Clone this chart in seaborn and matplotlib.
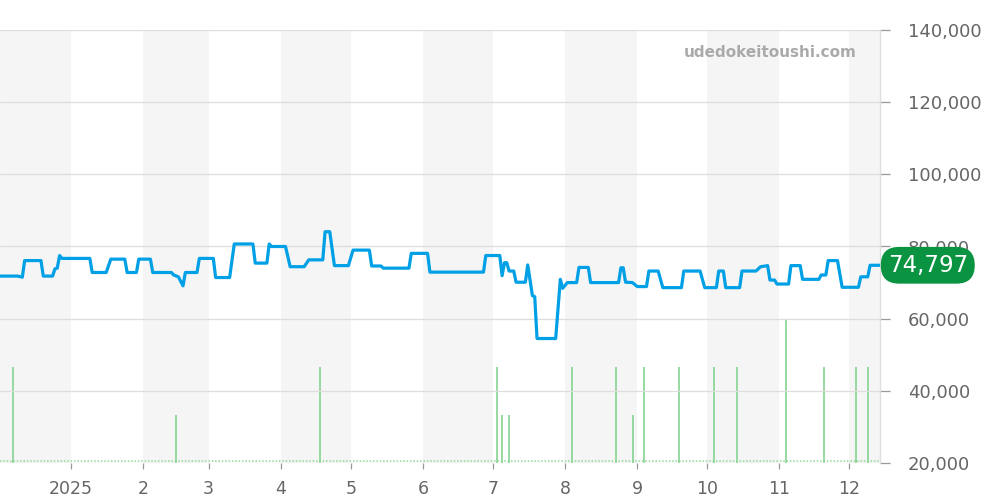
import matplotlib
matplotlib.use("Agg")
import matplotlib.pyplot as plt
import matplotlib.dates as mdates
import seaborn as sns
import pandas as pd
import numpy as np

# ---- data ----
price_dates = [
    "2024-12-01", "2024-12-09", "2024-12-11", "2024-12-12", "2024-12-19", "2024-12-20",
    "2024-12-24", "2024-12-25", "2024-12-26", "2024-12-27", "2024-12-28", "2025-01-09",
    "2025-01-10", "2025-01-16", "2025-01-18", "2025-01-24", "2025-01-25", "2025-01-29",
    "2025-01-30", "2025-02-04", "2025-02-05", "2025-02-13", "2025-02-14", "2025-02-16",
    "2025-02-18", "2025-02-19", "2025-02-24", "2025-02-25", "2025-03-03", "2025-03-04",
    "2025-03-10", "2025-03-12", "2025-03-20", "2025-03-21", "2025-03-26", "2025-03-27",
    "2025-03-28", "2025-04-03", "2025-04-05", "2025-04-11", "2025-04-13", "2025-04-19",
    "2025-04-20", "2025-04-22", "2025-04-24", "2025-04-30", "2025-05-02", "2025-05-09",
    "2025-05-10", "2025-05-14", "2025-05-15", "2025-05-26", "2025-05-27", "2025-06-03",
    "2025-06-04", "2025-06-27", "2025-06-28", "2025-07-04", "2025-07-05", "2025-07-06",
    "2025-07-07", "2025-07-08", "2025-07-10", "2025-07-11", "2025-07-15", "2025-07-16",
    "2025-07-18", "2025-07-19", "2025-07-20", "2025-07-28", "2025-07-30", "2025-07-31",
    "2025-08-02", "2025-08-06", "2025-08-07", "2025-08-11", "2025-08-12", "2025-08-24",
    "2025-08-25", "2025-08-26", "2025-08-27", "2025-08-30", "2025-09-01", "2025-09-05",
    "2025-09-06", "2025-09-10", "2025-09-12", "2025-09-20", "2025-09-21", "2025-09-28",
    "2025-09-30", "2025-10-05", "2025-10-06", "2025-10-08", "2025-10-09", "2025-10-15",
    "2025-10-16", "2025-10-22", "2025-10-24", "2025-10-27", "2025-10-28", "2025-10-30",
    "2025-10-31", "2025-11-05", "2025-11-06", "2025-11-10", "2025-11-11", "2025-11-18",
    "2025-11-19", "2025-11-21", "2025-11-22", "2025-11-26", "2025-11-28", "2025-12-05",
    "2025-12-06", "2025-12-09", "2025-12-10", "2025-12-14",
]
price_values = [
    71800, 71800, 71500, 76100, 76100, 71800,
    71800, 73800, 74000, 77500, 76700, 76700,
    72800, 72800, 76500, 76500, 72800, 72800,
    76500, 76500, 72800, 72800, 72100, 71600,
    69100, 72800, 72800, 76700, 76700, 71400,
    71400, 80700, 80700, 75400, 75400, 80700,
    80000, 80000, 74400, 74400, 76300, 76300,
    84100, 84100, 74700, 74700, 79000, 79000,
    74600, 74600, 74000, 74000, 78100, 78100,
    72900, 72900, 77500, 77500, 71900, 75500,
    75500, 73200, 73200, 70100, 70100, 74900,
    66400, 66100, 54500, 54500, 70900, 68400,
    70000, 70000, 74200, 74200, 70000, 70000,
    74100, 74100, 70100, 70000, 68900, 68900,
    73200, 73200, 68600, 68600, 73200, 73200,
    68600, 68600, 73200, 73200, 68600, 68600,
    73200, 73200, 74400, 74700, 70700, 70700,
    69600, 69600, 74700, 74700, 70900, 70900,
    72100, 72100, 76100, 76100, 68700, 68700,
    71600, 71600, 74797, 74797,
]

volume_dates = [
    "2024-12-07", "2025-02-15", "2025-04-18", "2025-07-03", "2025-07-05", "2025-07-08",
    "2025-08-04", "2025-08-23", "2025-08-30", "2025-09-04", "2025-09-19", "2025-10-04",
    "2025-10-14", "2025-11-04", "2025-11-20", "2025-12-04", "2025-12-09",
]
volume_counts = [2, 1, 2, 2, 1, 1, 2, 2, 1, 2, 2, 2, 2, 3, 2, 2, 2]

month_starts = ["2025-01-01", "2025-02-01", "2025-03-01", "2025-04-01", "2025-05-01",
                "2025-06-01", "2025-07-01", "2025-08-01", "2025-09-01", "2025-10-01",
                "2025-11-01", "2025-12-01"]
month_labels = ["2025", "2", "3", "4", "5", "6", "7", "8", "9", "10", "11", "12"]
shade_months = ["2024-12", "2025-02", "2025-04", "2025-06", "2025-08", "2025-10", "2025-12"]

y_ticks = [20000, 40000, 60000, 80000, 100000, 120000, 140000]
last_price = 74797
watermark = "udedokeitoushi.com"

# ---- styling ----
sns.set_theme(style="white")
plt.rcParams["font.family"] = ["DejaVu Sans"]

BLUE = "#00a0e6"
GREEN_BAR = "#8fd79a"
BADGE = "#0a9340"
TXT = "#666666"

df = pd.DataFrame({"date": pd.to_datetime(price_dates), "price": price_values})
vol = pd.DataFrame({"date": pd.to_datetime(volume_dates), "count": volume_counts})

fig = plt.figure(figsize=(10, 5), dpi=100)
ax2 = fig.add_axes([0.0, 0.074, 0.88, 0.866])  # volume (behind)
ax = fig.add_axes([0.0, 0.074, 0.88, 0.866], sharex=ax2)
ax.patch.set_alpha(0)

x_left = pd.Timestamp("2024-12-01 10:00")
x_right = pd.Timestamp("2025-12-14 06:00")

# shaded month bands
for m in shade_months:
    start = pd.Timestamp(m + "-01")
    end = start + pd.offsets.MonthBegin(1)
    ax2.axvspan(start, end, color="#f5f5f5", lw=0, zorder=0)

ax.set_ylim(20000, 140000)
ax.set_yticks(y_ticks)
ax.yaxis.grid(True, color="#dddddd", lw=0.9)
ax.set_axisbelow(True)

# volume bars
ax2.vlines(vol["date"], 0, vol["count"], colors=GREEN_BAR, lw=1.3, zorder=2, snap=True)
ax2.axhline(0.04, color=GREEN_BAR, lw=1.1, ls=(0, (1, 1.2)), zorder=2)
ax2.set_ylim(0, 9)
ax2.set_yticks([])
for s in ax2.spines.values():
    s.set_visible(False)

# price line
sns.lineplot(data=df, x="date", y="price", ax=ax, color=BLUE, lw=2.3, zorder=5)

ax.set_xlim(x_left, x_right)
ax.set_xlabel("")
ax.set_ylabel("")
ax.yaxis.tick_right()
ax.set_yticklabels([f"{v:,}" for v in y_ticks])
ax.tick_params(axis="y", which="both", right=True, length=7, width=0.9, color="#999999",
               labelsize=13, labelcolor=TXT, pad=13)
ax.set_xticks(pd.to_datetime(month_starts))
ax.set_xticklabels(month_labels)
ax.tick_params(axis="x", bottom=True, length=4, width=0.9, color="#999999",
               labelsize=12.5, labelcolor=TXT, pad=8)
ax2.tick_params(axis="x", bottom=False, labelbottom=False)
for name, s in ax.spines.items():
    s.set_visible(False)
ax.spines["right"].set_visible(True)
ax.spines["right"].set_color("#dddddd")
ax.spines["right"].set_linewidth(0.9)

# watermark
ax.text(0.973, 0.948, watermark, transform=ax.transAxes, ha="right", va="center",
        fontsize=11, fontweight="bold", color="#aaaaaa", zorder=6)

# last price badge
ax.annotate(f"{last_price:,}", xy=(1.0, last_price), xycoords=("axes fraction", "data"),
            xytext=(5.5, 0), textcoords="offset points", ha="left", va="center",
            fontsize=16.5, color="white", zorder=10, annotation_clip=False,
            bbox=dict(boxstyle="round,pad=0.3,rounding_size=0.8", fc=BADGE, ec="none"))

fig.savefig("out.png", dpi=100)
